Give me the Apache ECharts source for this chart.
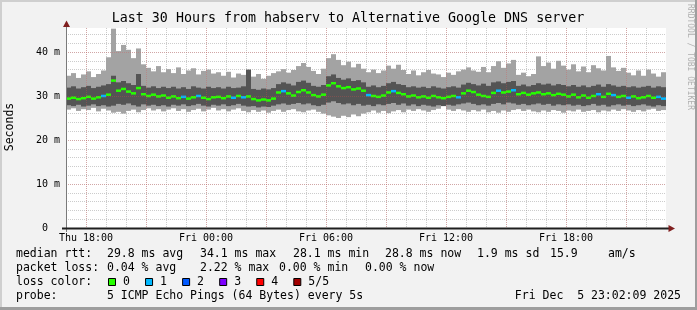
<!DOCTYPE html>
<html><head><meta charset="utf-8">
<script src="https://cdn.jsdelivr.net/npm/echarts@6.0.0/dist/echarts.min.js"></script>
<style>html,body{margin:0;padding:0;background:#f2f2f2}#c{width:697px;height:310px}</style>
</head><body><div id="c"></div><script>
// ---- data (one column = 15 minutes, hours counted from Thu 17:00) ----
const STEP = 0.25;
const pMax = [
 34.6,35.2,34.1,34.9,35.6,34.3,35.0,35.8,38.8,45.3,
 40.2,41.6,40.5,38.6,40.8,37.2,36.4,35.6,36.8,35.4,
 36.1,35.2,36.5,35.0,35.8,36.3,34.9,35.7,36.0,35.1,
 35.4,34.6,35.5,34.2,35.1,34.8,35.3,34.4,35.0,33.9,
 34.6,35.2,35.6,36.1,35.3,35.9,36.8,37.5,36.6,35.7,
 35.0,36.2,38.6,39.5,38.2,37.0,37.8,36.5,37.3,36.2,
 35.4,36.0,35.2,35.8,36.9,36.2,37.1,35.9,35.0,35.8,
 34.7,35.4,35.9,35.1,34.9,34.3,35.3,34.8,35.6,36.0,
 36.5,35.8,35.5,36.6,35.4,36.8,37.9,36.4,37.4,38.2,
 34.8,35.3,34.5,35.0,39.0,36.8,37.6,36.2,38.0,36.9,
 36.0,37.2,35.6,36.7,35.4,37.0,36.3,35.8,39.1,36.5,
 35.7,36.4,35.3,34.7,35.8,34.6,36.0,35.1,34.4,35.4];
const pHi = [
 31.9,32.2,31.7,32.0,32.3,31.8,32.1,32.4,32.7,34.6,
 33.1,33.4,32.9,32.5,35.0,32.3,31.9,32.2,31.8,32.1,
 31.8,32.1,31.7,32.0,31.6,32.2,31.9,31.7,32.1,31.8,
 32.0,31.7,32.1,31.8,31.9,32.2,36.0,31.6,31.4,31.7,
 31.5,31.8,32.7,33.1,32.8,32.4,33.2,33.5,33.0,32.3,
 32.1,32.5,34.5,34.9,34.1,33.7,34.0,33.4,33.6,33.1,
 32.1,32.4,32.0,32.3,32.9,33.2,32.7,32.5,32.0,32.2,
 31.9,32.1,31.8,32.2,31.9,31.7,32.0,32.2,31.9,32.6,
 33.0,32.7,32.4,32.8,32.3,33.1,33.3,32.9,33.2,33.4,
 32.3,32.6,32.2,32.5,32.9,32.6,32.8,32.4,32.7,32.5,
 32.2,32.5,32.1,32.4,32.0,32.3,32.6,32.1,32.7,32.4,
 32.1,32.3,32.0,32.2,31.9,32.1,32.3,31.9,32.2,32.0];
const pMed = [
 29.4,29.6,29.3,29.5,29.8,29.4,29.7,30.0,30.3,33.5,
 31.2,31.6,31.0,30.6,31.8,30.4,30.0,30.3,29.9,30.1,
 29.6,29.9,29.5,29.8,29.4,29.7,30.0,29.6,29.3,29.7,
 29.8,29.5,29.9,29.6,30.0,29.7,29.9,29.3,29.0,29.2,
 29.0,29.4,30.8,31.1,30.6,30.1,30.9,31.3,30.8,30.2,
 29.9,30.3,32.4,32.9,32.2,31.8,32.0,31.5,31.7,31.2,
 30.2,30.0,29.8,30.1,30.8,31.1,30.7,30.4,29.9,30.1,
 29.7,29.9,29.6,30.0,29.7,29.5,29.8,30.0,29.7,30.6,
 31.2,30.9,30.3,30.0,29.8,30.7,31.2,30.8,31.0,31.3,
 30.4,30.7,30.3,30.6,30.8,30.4,30.6,30.2,30.5,30.3,
 29.9,30.3,29.7,30.1,29.6,30.0,30.4,29.8,30.5,30.2,
 29.8,30.0,29.6,29.9,29.5,29.7,30.0,29.6,29.8,29.4];
const pLo = [
 27.9,27.7,28.0,27.6,27.8,28.1,27.7,27.9,27.6,27.8,
 28.2,28.0,28.3,27.9,27.6,28.1,27.8,28.0,27.7,27.9,
 27.6,28.0,27.8,28.1,27.7,27.9,28.2,27.8,27.6,28.0,
 27.8,28.1,27.7,27.9,28.2,27.8,27.6,27.7,27.4,27.6,
 27.5,27.8,28.1,28.3,28.0,28.2,28.4,28.1,28.3,27.9,
 27.7,28.0,28.5,28.8,28.4,28.1,28.3,27.9,28.2,27.8,
 28.0,27.7,28.1,27.9,28.2,28.4,28.0,28.3,27.8,28.1,
 27.7,28.0,27.8,27.6,27.9,27.7,28.0,27.8,28.1,28.3,
 28.5,28.2,27.9,28.1,27.8,28.2,28.4,28.1,28.5,28.3,
 28.0,28.2,27.9,28.1,28.3,28.0,28.2,27.8,28.1,27.9,
 28.1,27.8,28.0,27.7,27.9,28.2,27.8,28.0,27.6,27.9,
 28.1,27.8,28.0,27.7,27.9,28.1,27.8,27.6,27.9,27.7];
const pMin = [
 26.9,27.2,26.6,27.0,26.8,27.3,26.5,27.1,26.7,26.2,
 26.4,26.0,26.6,26.9,26.3,26.8,27.2,26.7,27.0,26.5,
 26.9,27.2,26.6,27.0,26.4,26.8,27.1,26.5,26.9,27.3,
 26.7,27.0,26.5,26.9,27.2,26.6,26.3,26.8,26.4,26.7,
 26.2,26.6,26.9,26.4,26.8,27.0,26.5,26.3,26.7,26.9,
 26.4,26.0,25.6,25.3,25.0,25.5,25.2,25.8,25.4,26.0,
 26.3,26.7,26.2,26.6,26.1,26.5,26.8,26.3,26.9,26.6,
 27.0,26.7,26.4,26.8,27.1,27.9,26.9,26.6,27.0,26.7,
 26.4,26.8,26.5,26.9,26.3,26.6,26.2,26.7,26.4,26.8,
 27.0,26.6,26.9,26.5,26.3,26.7,26.4,26.8,26.6,26.2,
 26.7,26.5,26.9,26.4,26.6,26.8,26.3,26.7,26.5,26.9,
 26.6,27.0,26.7,26.4,26.8,26.5,26.9,27.1,26.6,26.8];
const lossCount = [
 0,0,0,0,0,0,0,1,0,0, 0,0,0,0,0,0,0,0,0,0,
 0,0,0,1,0,0,1,0,0,0, 0,0,0,1,0,1,0,0,0,0,
 0,0,0,1,0,0,0,0,0,0, 0,0,0,0,0,0,0,0,0,0,
 1,0,0,0,0,1,0,0,0,0, 0,0,0,0,0,0,0,0,1,0,
 0,0,0,0,0,0,1,0,0,1, 0,0,0,0,0,0,0,0,0,0,
 0,0,0,0,0,0,1,0,0,1, 0,0,1,0,0,0,0,0,1,1];
const lossColors = ['#26ff00','#00b8ff','#0059ff','#7e00ff','#ff0000','#a10000'];
const lossLabels = ['0','1','2','3','4','5/5'];
// x tick labels, hours counted from Thu 18:00
const xTickLabels = {0:'Thu 18:00', 6:'Fri 00:00', 12:'Fri 06:00', 18:'Fri 12:00', 24:'Fri 18:00'};
const Y_MAX = 45.45;
const titleText = 'Last 30 Hours from habserv to Alternative Google DNS server';
const rttStats = ['median rtt:', '29.8 ms avg', '34.1 ms max', '28.1 ms min', '28.8 ms now', '1.9 ms sd', '15.9', 'am/s'];
const lossStats = ['packet loss:', '0.04 % avg', '2.22 % max', '0.00 % min', '0.00 % now'];
const probeText = ['probe:', '5 ICMP Echo Pings (64 Bytes) every 5s', 'Fri Dec  5 23:02:09 2025'];

// ---- build ----
const smokeData = pMax.map((v, i) => [i * STEP, pMin[i], pLo[i], pMed[i], pHi[i], v]);
const medData = pMed.map((v, i) => [i * STEP, v, lossCount[i]]);

const MONO = '"DejaVu Sans Mono", monospace';
const LF = '11.5px ' + MONO;
const minorGrid = {show:true, showMinLine:false, showMaxLine:false, lineStyle:{color:'rgba(143,143,143,0.45)', width:1, type:[1,1]}};
const majorGrid = {show:true, showMinLine:true, showMaxLine:false, lineStyle:{color:'rgba(222,79,79,0.3)', width:1, type:[1,1]}};

function txt(x, y, s, extra) {
  return Object.assign({type:'text', x:x, y:y, silent:true, z:100,
    style:{text:s, font:LF, fill:'#000', textAlign:'left', textVerticalAlign:'middle', align:'left', verticalAlign:'middle'}}, extra || {});
}
const rttX = [16,107,200,293,385,477,550,608];
const lossX = [16,107,200,279,365];
const graphics = [];
rttStats.forEach((s, i) => graphics.push(txt(rttX[i], 254, s)));
lossStats.forEach((s, i) => graphics.push(txt(lossX[i], 268, s)));
graphics.push(txt(16, 282, 'loss color:'));
lossColors.forEach((c, k) => {
  const bx = 108 + k * 37.06;
  graphics.push({type:'rect', z:100, shape:{x:bx + 0.5, y:278.5, width:7, height:7}, style:{fill:c, stroke:'#000', lineWidth:1}});
  graphics.push(txt(bx + 15, 282, lossLabels[k]));
});
graphics.push(txt(16, 296, probeText[0]));
graphics.push(txt(107, 296, probeText[1]));
const dt = txt(681, 296, probeText[2]);
dt.style.textAlign = 'right'; dt.style.align = 'right';
graphics.push(dt);
// title
graphics.push({type:'text', x:348, y:19, z:100, style:{text:titleText, font:'13.3px ' + MONO, fill:'#000', textAlign:'center', align:'center', textVerticalAlign:'middle', verticalAlign:'middle'}});
// y axis name
graphics.push({type:'text', x:10, y:127, rotation:Math.PI/2, z:100, style:{text:'Seconds', font:'11.5px ' + MONO, fill:'#000', textAlign:'center', align:'center', textVerticalAlign:'middle', verticalAlign:'middle'}});
// watermark
graphics.push({type:'text', x:690, y:4, rotation:-Math.PI/2, z:100, style:{text:'RRDTOOL / TOBI OETIKER', font:'8px ' + MONO, fill:'#b0b0b0', textAlign:'left', align:'left', textVerticalAlign:'middle', verticalAlign:'middle'}});
// axis lines and arrows
graphics.push({type:'line', z:60, shape:{x1:66.5, y1:232, x2:66.5, y2:24}, style:{stroke:'#7a7a7a', lineWidth:1}});
graphics.push({type:'line', z:60, shape:{x1:62, y1:228.5, x2:670, y2:228.5}, style:{stroke:'#1f1f1f', lineWidth:2}});
graphics.push({type:'polygon', z:61, shape:{points:[[66.5,20.5],[63,27],[70,27]]}, style:{fill:'#801f1f'}});
graphics.push({type:'polygon', z:61, shape:{points:[[675,228.5],[668.5,225],[668.5,232]]}, style:{fill:'#801f1f'}});
// frame
graphics.push({type:'rect', z:101, shape:{x:0, y:0, width:697, height:2}, style:{fill:'#cfcfcf'}});
graphics.push({type:'rect', z:101, shape:{x:0, y:0, width:2, height:310}, style:{fill:'#cfcfcf'}});
graphics.push({type:'rect', z:101, shape:{x:0, y:307, width:697, height:3}, style:{fill:'#9e9e9e'}});
graphics.push({type:'rect', z:101, shape:{x:695, y:0, width:2, height:310}, style:{fill:'#9e9e9e'}});

const chart = echarts.init(document.getElementById('c'), null, {renderer:'canvas'});
chart.setOption({
  backgroundColor:'#f2f2f2',
  animation:false,
  grid:[
    {left:66, top:28, width:600, height:200, show:true, backgroundColor:'#ffffff', borderWidth:0, z:0},
    {left:86, top:28, width:580, height:200, show:false}
  ],
  xAxis:[
    {type:'value', gridIndex:0, min:0, max:30, interval:1, z:1,
     axisLine:{show:false}, axisTick:{show:false}, axisLabel:{show:false}, splitLine:minorGrid},
    {type:'value', gridIndex:1, min:0, max:29, interval:3, z:6,
     axisLine:{show:false}, axisTick:{show:false}, splitLine:majorGrid,
     axisLabel:{show:true, margin:5, fontFamily:'DejaVu Sans Mono', fontSize:10, color:'#000', showMaxLabel:false,
       formatter:v => (xTickLabels[v] !== undefined ? xTickLabels[v] : '')}}
  ],
  yAxis:[
    {type:'value', gridIndex:0, min:0, max:Y_MAX, interval:2, z:1, position:'left',
     axisLine:{show:false}, axisTick:{show:false}, axisLabel:{show:false}, splitLine:minorGrid},
    {type:'value', gridIndex:0, min:0, max:Y_MAX, interval:10, z:6, position:'left',
     axisLine:{show:false}, axisTick:{show:false},
     splitLine:Object.assign({}, majorGrid, {showMinLine:false}),
     axisLabel:{show:true, margin:6, fontFamily:'DejaVu Sans Mono', fontSize:10, color:'#000', showMaxLabel:false,
       formatter:v => (v === 0 ? '0\u00a0\u00a0' : (v % 10 === 0 ? v + ' m' : ''))}},
    {type:'value', gridIndex:1, min:0, max:Y_MAX, show:false, splitLine:{show:false}}
  ],
  series:[
    {type:'custom', xAxisIndex:0, yAxisIndex:0, clip:true, z:2, silent:true,
     data:smokeData, encode:{x:0, y:[1,5]},
     renderItem:(params, api) => {
       const h = api.value(0);
       const a = api.coord([h, api.value(1)]);
       const b = api.coord([h + STEP, api.value(5)]);
       const c = api.coord([h, api.value(2)]);
       const d = api.coord([h + STEP, api.value(4)]);
       return {type:'group', children:[
         {type:'rect', shape:{x:a[0], y:b[1], width:b[0]-a[0], height:a[1]-b[1]}, style:{fill:'#a3a3a3'}},
         {type:'rect', shape:{x:c[0], y:d[1], width:d[0]-c[0], height:c[1]-d[1]}, style:{fill:'#545454'}}
       ]};
     }},
    {type:'custom', xAxisIndex:0, yAxisIndex:0, clip:true, z:3, silent:true,
     data:medData, encode:{x:0, y:1},
     renderItem:(params, api) => {
       const h = api.value(0);
       const a = api.coord([h, api.value(1)]);
       const b = api.coord([h + STEP, api.value(1)]);
       return {type:'rect', shape:{x:a[0], y:a[1]-1.25, width:b[0]-a[0], height:2.5}, style:{fill:lossColors[api.value(2)]}};
     }}
  ],
  graphic:graphics
});
</script></body></html>
